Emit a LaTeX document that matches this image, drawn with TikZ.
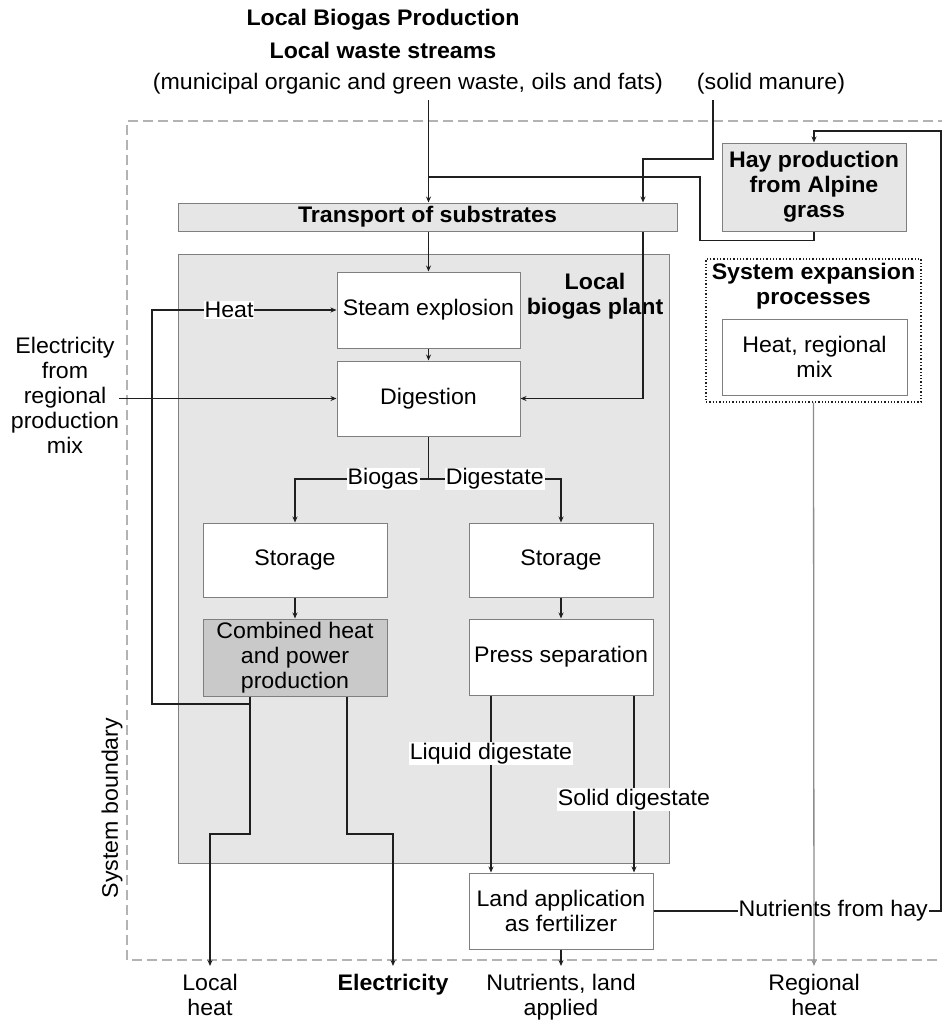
\documentclass[tikz,border=0pt]{standalone}
\usepackage{fontspec}
\setmainfont[FakeStretch=1.03]{Liberation Sans}
\usetikzlibrary{arrows.meta}
\definecolor{plantgray}{HTML}{E6E6E6}
\definecolor{boxline}{HTML}{7F7F7F}
\definecolor{chpgray}{HTML}{C9C9C9}
\definecolor{boundgray}{HTML}{B3B3B3}
\definecolor{linecol}{HTML}{1F1F1F}
\definecolor{heatline}{HTML}{8C8C8C}
\begin{document}
\begin{tikzpicture}[x=1pt,y=-1pt,
  every node/.style={font=\fontsize{22.5}{25}\selectfont, align=center},
  bold/.style={font=\fontsize{22.5}{25}\selectfont\bfseries},
  proc/.style={draw=boxline, line width=1pt, fill=white, minimum width=184pt, minimum height=75pt, inner sep=2pt},
  grayproc/.style={proc, fill=plantgray},
  lbl/.style={fill=white, inner sep=1pt},
  conn/.style={draw=linecol, line width=1.3pt},
  arr/.style={conn, -{Stealth[length=6pt,width=5pt]}},
  outlbl/.style={anchor=north, inner xsep=0pt, inner ysep=8pt},
]
\useasboundingbox (0,0) rectangle (942,1021);
% system boundary
\draw[boundgray, line width=1.5pt, dash pattern=on 10pt off 5pt] (948,121) -- (127,121) -- (127,960) -- (948,960);
\node[rotate=90] (sysb) at (112,808) {System boundary};

% titles and inputs
\node[bold] (title) at (383,20) {Local Biogas Production};
\node[bold] (waste) at (383,50) {Local waste streams};
\node (wastesub) at (408,84) {(municipal organic and green waste, oils and fats)};
\node (manure) at (771,84) {(solid manure)};

% plant
\node[grayproc, minimum width=491pt, minimum height=609pt] (plant) at (423.5,558.5) {};
\node[bold] (plantlbl) at (595,296) {Local\\biogas plant};
\node[grayproc, bold, minimum width=499pt, minimum height=28pt, inner sep=0pt] (transport) at (427.5,217) {Transport of substrates};

\node[proc, minimum width=183pt, minimum height=76pt] (steam) at (428.5,310) {Steam explosion};
\node[proc, minimum width=183pt] (digestion) at (428.5,398.5) {Digestion};
\node[proc, minimum height=74pt] (storL) at (295,560) {Storage};
\node[proc, minimum height=74pt] (storR) at (561,560) {Storage};
\node[proc, fill=chpgray, minimum height=77pt] (chp) at (295,657.5) {Combined heat\\and power\\production};
\node[proc, minimum height=76pt] (press) at (561,657) {Press separation};
\node[proc, minimum height=76pt] (land) at (561,911) {Land application\\as fertilizer};

% right side
\node[grayproc, bold, minimum height=88pt] (hay) at (814,187) {Hay production\\from Alpine\\grass};
\node[draw=linecol, dotted, line width=1.3pt, minimum width=215pt, minimum height=143pt] (sysexp) at (813.5,330.5) {};
\node[bold] (sysexplbl) at (813.5,286) {System expansion\\processes};
\node[proc, minimum width=185pt, minimum height=76pt] (heatmix) at (814.5,357) {Heat, regional\\mix};

% left input
\node[inner sep=0pt] (elecin) at (65,395) {Electricity\\from\\regional\\production\\mix};

% outputs
\node[outlbl] (lheat) at (210,966) {Local\\heat};
\node[outlbl, bold] (elecout) at (393,966) {Electricity};
\node[outlbl] (nutl) at (561,966) {Nutrients, land\\applied};
\node[outlbl] (rheat) at (814,966) {Regional\\heat};

% coordinates
\coordinate (wtop) at (428.5,100);
\coordinate (mtop) at (713,100);
\coordinate (mj) at (643,159);
\coordinate (hj) at (428.5,177);
\coordinate (split) at (428.5,479);
\coordinate (chph) at ([xshift=-45pt]chp.south);
\coordinate (chpe) at ([xshift=52pt]chp.south);

% connectors
\draw[arr] (wtop) -- (wtop |- transport.north);
\draw[conn] (hay.south) -- ++(0,9) -| (700,177) -- (hj);
\draw[arr] (mtop) |- (mj) -- (mj |- transport.north);
\draw[arr] (steam.north |- transport.south) -- (steam.north);
\draw[arr] (mj |- transport.south) |- (digestion.east);
\draw[arr] (steam) -- (digestion);
\draw[arr] (elecin.east |- digestion.west) -- (digestion.west);
\draw[conn] (digestion.south) -- (split);
\draw[arr] (split) -| node[lbl, pos=0.17] {Biogas} (storL.north);
\draw[arr] (split) -| node[lbl, pos=0.25] {Digestate} (storR.north);
\draw[arr] (storL) -- (chp);
\draw[arr] (storR) -- (press);
\draw[arr] (chph) |- (152,704) |- (steam.west);
\node[lbl] (heatlbl) at (229,310) {Heat};
\draw[arr] (chph) -- (250,834) -| (lheat.north);
\draw[arr] (chpe) -- (347,834) -| (elecout.north);
\draw[arr] ([xshift=-70pt]press.south) -- node[lbl, pos=0.33] {Liquid digestate} ([xshift=-70pt]land.north);
\draw[arr] ([xshift=73pt]press.south) -- node[lbl, pos=0.59] {Solid digestate} ([xshift=73pt]land.north);
\draw[arr] (land.south) -- (nutl.north);
\draw[arr] (land.east) -- node[lbl, pos=0.625] {Nutrients from hay} (941,911) -- (941,131) -| (hay.north);
\draw[arr, draw=heatline] (sysexp.south) -- (rheat.north);
\end{tikzpicture}
\end{document}
